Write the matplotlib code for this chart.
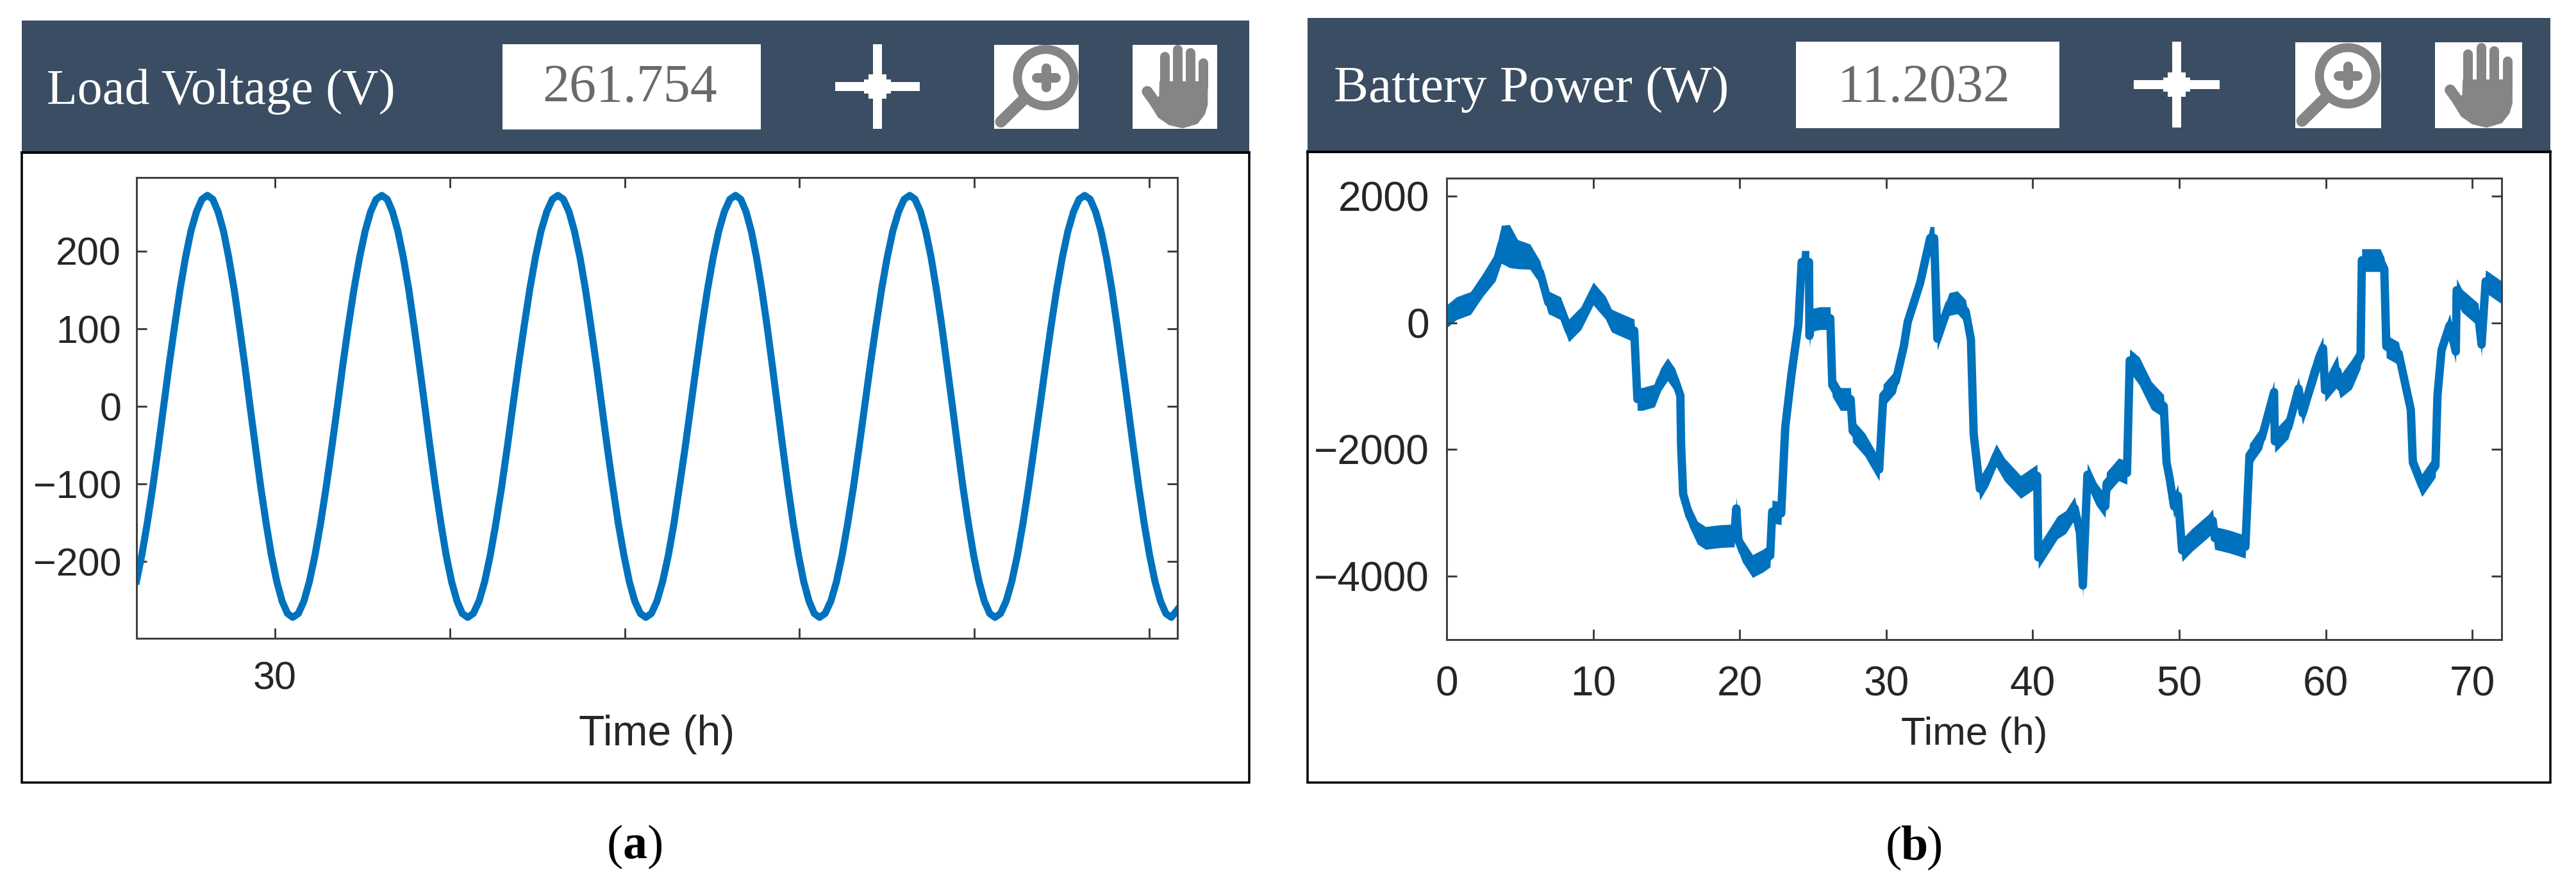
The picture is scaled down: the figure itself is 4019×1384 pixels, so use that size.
import matplotlib
matplotlib.use('Agg')
import matplotlib.pyplot as plt
from matplotlib.patches import Rectangle, Circle, Polygon

W, H = 4019, 1384
DPI = 100
PX = 72.0 / DPI  # points per pixel

HEADER = '#3A4D62'
BLUE = '#0072BD'
ICON = '#858585'
AXIS = '#404040'
TICK_TEXT = '#262626'

# panel (a) load voltage, time in tick units (only the first tick is labelled)
time_a = [29.21, 29.24, 29.271, 29.303, 29.334, 29.365, 29.396, 29.428, 29.459, 29.49, 29.521, 29.553, 29.584, 29.615,
          29.646, 29.676, 29.707, 29.737, 29.768, 29.798, 29.829, 29.859, 29.890, 29.920, 29.951, 29.981, 30.012, 30.042, 30.073, 30.103,
          30.135, 30.167, 30.198, 30.230, 30.262, 30.294, 30.326, 30.358, 30.389, 30.421, 30.453, 30.485, 30.517, 30.548, 30.580, 30.612,
          30.643, 30.673, 30.704, 30.735, 30.766, 30.796, 30.827, 30.858, 30.888, 30.919, 30.950, 30.980, 31.011, 31.042, 31.072, 31.103,
          31.135, 31.168, 31.200, 31.232, 31.264, 31.297, 31.329, 31.361, 31.393, 31.426, 31.458, 31.490, 31.522, 31.555, 31.587, 31.619,
          31.650, 31.682, 31.713, 31.745, 31.776, 31.807, 31.839, 31.870, 31.901, 31.933, 31.964, 31.996, 32.027, 32.058, 32.090, 32.121,
          32.153, 32.185, 32.217, 32.250, 32.282, 32.313, 32.346, 32.378, 32.410, 32.442, 32.474, 32.506, 32.538, 32.570, 32.602, 32.634,
          32.664, 32.694, 32.724, 32.754, 32.784, 32.814, 32.844, 32.874, 32.904, 32.934, 32.964, 32.994, 33.024, 33.054, 33.084, 33.114,
          33.146, 33.179, 33.211, 33.243, 33.275, 33.308, 33.340, 33.372, 33.404, 33.437, 33.469, 33.501, 33.533, 33.566, 33.598, 33.630,
          33.660, 33.691, 33.721, 33.752, 33.782, 33.813, 33.843, 33.874, 33.904, 33.934, 33.965, 33.995, 34.026, 34.056, 34.087, 34.117,
          34.149, 34.181, 34.213, 34.245, 34.277, 34.309, 34.341, 34.374, 34.406, 34.438, 34.470, 34.502, 34.534, 34.566, 34.598, 34.630,
          34.661, 34.692, 34.723, 34.754, 34.785, 34.815, 34.846, 34.877, 34.908, 34.939, 34.970, 35.001, 35.032, 35.063, 35.094, 35.125, 35.16]
voltage_a = [-225, -192, -151, -104, -53, 0, 53, 104, 151, 192, 226, 251, 267, 272,
             267, 251, 226, 192, 151, 104, 53, 0, -53, -104, -151, -192, -226, -251, -267, -272,
             -267, -251, -226, -192, -151, -104, -53, 0, 53, 104, 151, 192, 226, 251, 267, 272,
             267, 251, 226, 192, 151, 104, 53, 0, -53, -104, -151, -192, -226, -251, -267, -272,
             -267, -251, -226, -192, -151, -104, -53, 0, 53, 104, 151, 192, 226, 251, 267, 272,
             267, 251, 226, 192, 151, 104, 53, 0, -53, -104, -151, -192, -226, -251, -267, -272,
             -267, -251, -226, -192, -151, -104, -53, 0, 53, 104, 151, 192, 226, 251, 267, 272,
             267, 251, 226, 192, 151, 104, 53, 0, -53, -104, -151, -192, -226, -251, -267, -272,
             -267, -251, -226, -192, -151, -104, -53, 0, 53, 104, 151, 192, 226, 251, 267, 272,
             267, 251, 226, 192, 151, 104, 53, 0, -53, -104, -151, -192, -226, -251, -267, -272,
             -267, -251, -226, -192, -151, -104, -53, 0, 53, 104, 151, 192, 226, 251, 267, 272,
             267, 251, 226, 192, 151, 104, 53, 0, -53, -104, -151, -192, -226, -251, -267, -272, -262]
xticks_a = [30, 31, 32, 33, 34, 35]
xticklabels_a = ['30', '', '', '', '', '']
yticks_a = [-200, -100, 0, 100, 200]

# panel (b) battery power
time_b = [0, 0.67, 1.64, 2.48, 3.32, 3.74, 4.29, 4.85, 5.69, 6.38, 6.94, 7.78,
          8.34, 9.17, 10.01, 10.84, 11.26, 11.96, 12.8, 13.02, 13.35, 14.19,
          14.61, 15.08, 15.58, 15.95, 16.0, 16.14, 16.56, 17.12, 17.67, 18.65,
          19.63, 19.77, 19.91, 20.18, 20.88, 21.58, 22.08, 22.22, 22.83, 23.11,
          23.53, 24.0, 24.23, 24.73, 24.76, 24.92, 25.48, 26.18, 26.32, 26.88,
          27.57, 27.71, 28.55, 29.52, 29.8, 30.64, 31.2, 31.47, 32.31, 33.0,
          33.27, 33.49, 33.88, 34.3, 34.86, 35.42, 35.78, 35.97, 36.39, 36.95,
          37.51, 38.07, 39.18, 39.88, 40.3, 40.38, 40.85, 41.69, 42.25, 42.86,
          43.22, 43.42, 43.73, 44.34, 44.95, 45.04, 45.87, 46.43, 46.62, 47.27,
          48.1, 48.94, 49.13, 49.36, 49.64, 49.91, 50.19, 50.89, 52.0, 52.28,
          52.42, 53.4, 54.51, 54.79, 55.63, 56.47, 56.52, 57.44, 58.14, 58.42,
          59.25, 59.81, 59.95, 60.79, 60.98, 61.76, 62.37, 62.46, 63.71, 63.99,
          64.13, 64.97, 65.8, 65.94, 66.56, 67.48, 67.62, 67.9, 68.45, 68.87,
          68.93, 69.29, 70.4, 70.63, 70.91, 71.94]
power_b = [100, 228, 311, 599, 877, 1238, 1210, 1082, 1043, 794, 322, 228,
           -122, 72, 461, 239, 33, -39, -122, -1204, -1204, -1149,
           -899, -733, -899, -1149, -1926, -2703, -3036, -3313, -3397, -3369,
           -3358, -2930, -3424, -3591, -3841, -3757, -3674, -2980, -3008, -1648,
           -816, -39, 960, 960, -205, 44, 72, 72, -982, -1204,
           -1204, -1704, -1926, -2314, -1149, -927, -372, 17, 627, 1338,
           1338, -250, 17, 294, 322, 183, -261, -1759, -2620, -2398,
           -2092, -2314, -2592, -2481, -2414, -3702, -3535, -3230, -3147, -2925,
           -3313, -4146, -2398, -2703, -2897, -2536, -2314, -2370, -594, -760,
           -1149, -1315, -2203, -2481, -2897, -2731, -3591, -3424, -3202, -3119,
           -3397, -3452, -3535, -2092, -1815, -1093, -1870, -1648, -1038, -1426,
           -760, -400, -1066, -760, -1010, -816, -538, 988, 988, 849,
           -372, -483, -1371, -2203, -2564, -2259, -1149, -427, -39, -455,
           516, 350, 128, -344, 655, 488]
# half width of the fast ripple that makes the trace thick in y
ripple_default = 180
ripple_wide = {3.32: 220, 3.74: 300, 4.29: 340, 4.85: 230, 5.69: 200,
               59.25: 240, 60.79: 250, 61.76: 230, 47.27: 220, 48.1: 220}
xticks_b = [0, 10, 20, 30, 40, 50, 60, 70]
yticks_b = [-4000, -2000, 0, 2000]


def add_axes_px(fig, left, top, right, bottom, **kw):
    return fig.add_axes([left / W, 1 - bottom / H, (right - left) / W, (bottom - top) / H], **kw)


def draw_crosshair(bg, cx, cy, half_w, half_h):
    bg.add_patch(Rectangle((cx - 7, cy - half_h), 14, 2 * half_h, color='white', lw=0))
    bg.add_patch(Rectangle((cx - half_w, cy - 7), 2 * half_w, 14, color='white', lw=0))
    bg.add_patch(Rectangle((cx - 14, cy - 19), 28, 38, color='white', lw=0))
    bg.add_patch(Rectangle((cx - 21, cy - 11), 42, 22, color='white', lw=0))


def draw_magnifier(bg, x0, y0, x1, y1):
    w, h = x1 - x0, y1 - y0
    bg.add_patch(Rectangle((x0, y0), w, h, color='white', lw=0))
    cx, cy = x0 + 0.61 * w, y0 + 0.39 * h
    bg.add_patch(Circle((cx, cy), 44, fill=False, ec=ICON, lw=14 * PX))
    bg.plot([x0 + 0.36 * w, x0 + 0.08 * w], [y0 + 0.64 * h, y0 + 0.916 * h], color=ICON,
            lw=18 * PX, solid_capstyle='round')
    bg.plot([cx - 15, cx + 15], [cy, cy], color=ICON, lw=15 * PX, solid_capstyle='round')
    bg.plot([cx, cx], [cy - 15, cy + 15], color=ICON, lw=15 * PX, solid_capstyle='round')


def draw_hand(bg, x0, y0, x1, y1):
    w, h = x1 - x0, y1 - y0
    bg.add_patch(Rectangle((x0, y0), w, h, color='white', lw=0))
    fingers = [(0.375, 0.081), (0.528, 0.0), (0.68, 0.038), (0.831, 0.158)]
    for fx, ftop in fingers:
        bg.plot([x0 + fx * w, x0 + fx * w], [y0 + (ftop + 0.057) * h, y0 + 0.5 * h], color=ICON,
                lw=15 * PX, solid_capstyle='round')
    palm = [(0.318, 0.433), (0.889, 0.433), (0.889, 0.712), (0.856, 0.827), (0.768, 0.941),
            (0.591, 0.995), (0.427, 0.954), (0.30, 0.865), (0.2, 0.7), (0.313, 0.611)]
    bg.add_patch(Polygon([(x0 + px * w, y0 + py * h) for px, py in palm], closed=True, color=ICON, lw=0))
    bg.plot([x0 + 0.174 * w, x0 + 0.32 * w], [y0 + 0.555 * h, y0 + 0.76 * h], color=ICON,
            lw=17 * PX, solid_capstyle='round')


def draw_caption(bg, cx, cy, letter):
    font = dict(family='Liberation Serif', fontsize=76 * PX, va='center', color='black')
    bg.text(cx, cy, letter, ha='center', fontweight='bold', **font)
    bg.text(cx - 19, cy, '(', ha='right', **font)
    bg.text(cx + 19, cy, ')', ha='left', **font)


def style_axes(ax, ylab_pad, xlab_pad, size):
    for spine in ax.spines.values():
        spine.set_color(AXIS)
        spine.set_linewidth(3 * PX)
    ax.tick_params(axis='both', direction='in', top=True, right=True, length=16 * PX, width=3 * PX,
                   color=AXIS, labelcolor=TICK_TEXT, labelsize=size)
    ax.tick_params(axis='y', pad=ylab_pad * PX)
    ax.tick_params(axis='x', pad=xlab_pad * PX)


plt.rcParams['font.family'] = ['Liberation Sans', 'DejaVu Sans']

fig = plt.figure(figsize=(W / DPI, H / DPI), dpi=DPI, facecolor='white')

# chrome of the two dashboard panels, in pixel coordinates
bg = fig.add_axes([0, 0, 1, 1])
bg.set_xlim(0, W)
bg.set_ylim(H, 0)
bg.axis('off')

bg.add_patch(Rectangle((34, 238), 1915, 983, fill=False, ec='black', lw=3.5 * PX))
bg.add_patch(Rectangle((34, 32), 1915, 206, color=HEADER, lw=0))
bg.plot([34, 1949], [238, 238], color='black', lw=4 * PX)
bg.text(73, 143, 'Load Voltage (V)', family='Liberation Serif', fontsize=78 * PX, color='white',
        va='center', ha='left')
bg.add_patch(Rectangle((784, 69), 403, 133, color='white', lw=0))
bg.text(983, 139, '261.754', family='Liberation Serif', fontsize=84 * PX, color='#6A6A6A',
        va='center', ha='center')
draw_crosshair(bg, 1369, 135, 66, 66)
draw_magnifier(bg, 1551, 70, 1683, 201)
draw_hand(bg, 1767, 70, 1899, 201)
draw_caption(bg, 991, 1321, 'a')

bg.add_patch(Rectangle((2040, 236), 1939, 985, fill=False, ec='black', lw=3.5 * PX))
bg.add_patch(Rectangle((2040, 28), 1939, 208, color=HEADER, lw=0))
bg.plot([2040, 3979], [237, 237], color='black', lw=4 * PX)
bg.text(2081, 140, 'Battery Power (W)', family='Liberation Serif', fontsize=81 * PX, color='white',
        va='center', ha='left')
bg.add_patch(Rectangle((2802, 65), 411, 135, color='white', lw=0))
bg.text(3002, 138, '11.2032', family='Liberation Serif', fontsize=84 * PX, color='#6A6A6A',
        va='center', ha='center')
draw_crosshair(bg, 3396, 132, 67, 67)
draw_magnifier(bg, 3581, 66, 3715, 200)
draw_hand(bg, 3799, 66, 3935, 200)
draw_caption(bg, 2986, 1323, 'b')

# (a) load voltage
ax1 = add_axes_px(fig, 213, 277, 1837, 996)
ax1.plot(time_a, voltage_a, color=BLUE, lw=11 * PX)
ax1.set_xlim(29.21, 35.16)
ax1.set_ylim(-299, 295)
ax1.set_xticks(xticks_a)
ax1.set_xticklabels(xticklabels_a)
ax1.set_yticks(yticks_a)
style_axes(ax1, 24, 36, 61 * PX)
ax1.set_xlabel('Time (h)', fontsize=66 * PX, color=TICK_TEXT, labelpad=26 * PX)

# (b) battery power
ripple_b = [ripple_wide.get(t, ripple_default) for t in time_b]
ax2 = add_axes_px(fig, 2257, 278, 3903, 998)
ax2.fill_between(time_b, [p - r for p, r in zip(power_b, ripple_b)],
                 [p + r for p, r in zip(power_b, ripple_b)], color=BLUE, lw=0)
ax2.plot(time_b, power_b, color=BLUE, lw=13 * PX)
ax2.set_xlim(0, 72)
ax2.set_ylim(-5000, 2283)
ax2.set_xticks(xticks_b)
ax2.set_yticks(yticks_b)
style_axes(ax2, 27, 40, 64 * PX)
ax2.set_xlabel('Time (h)', fontsize=62 * PX, color=TICK_TEXT, labelpad=20 * PX)

plt.savefig('out.png', dpi=DPI)
plt.close(fig)
